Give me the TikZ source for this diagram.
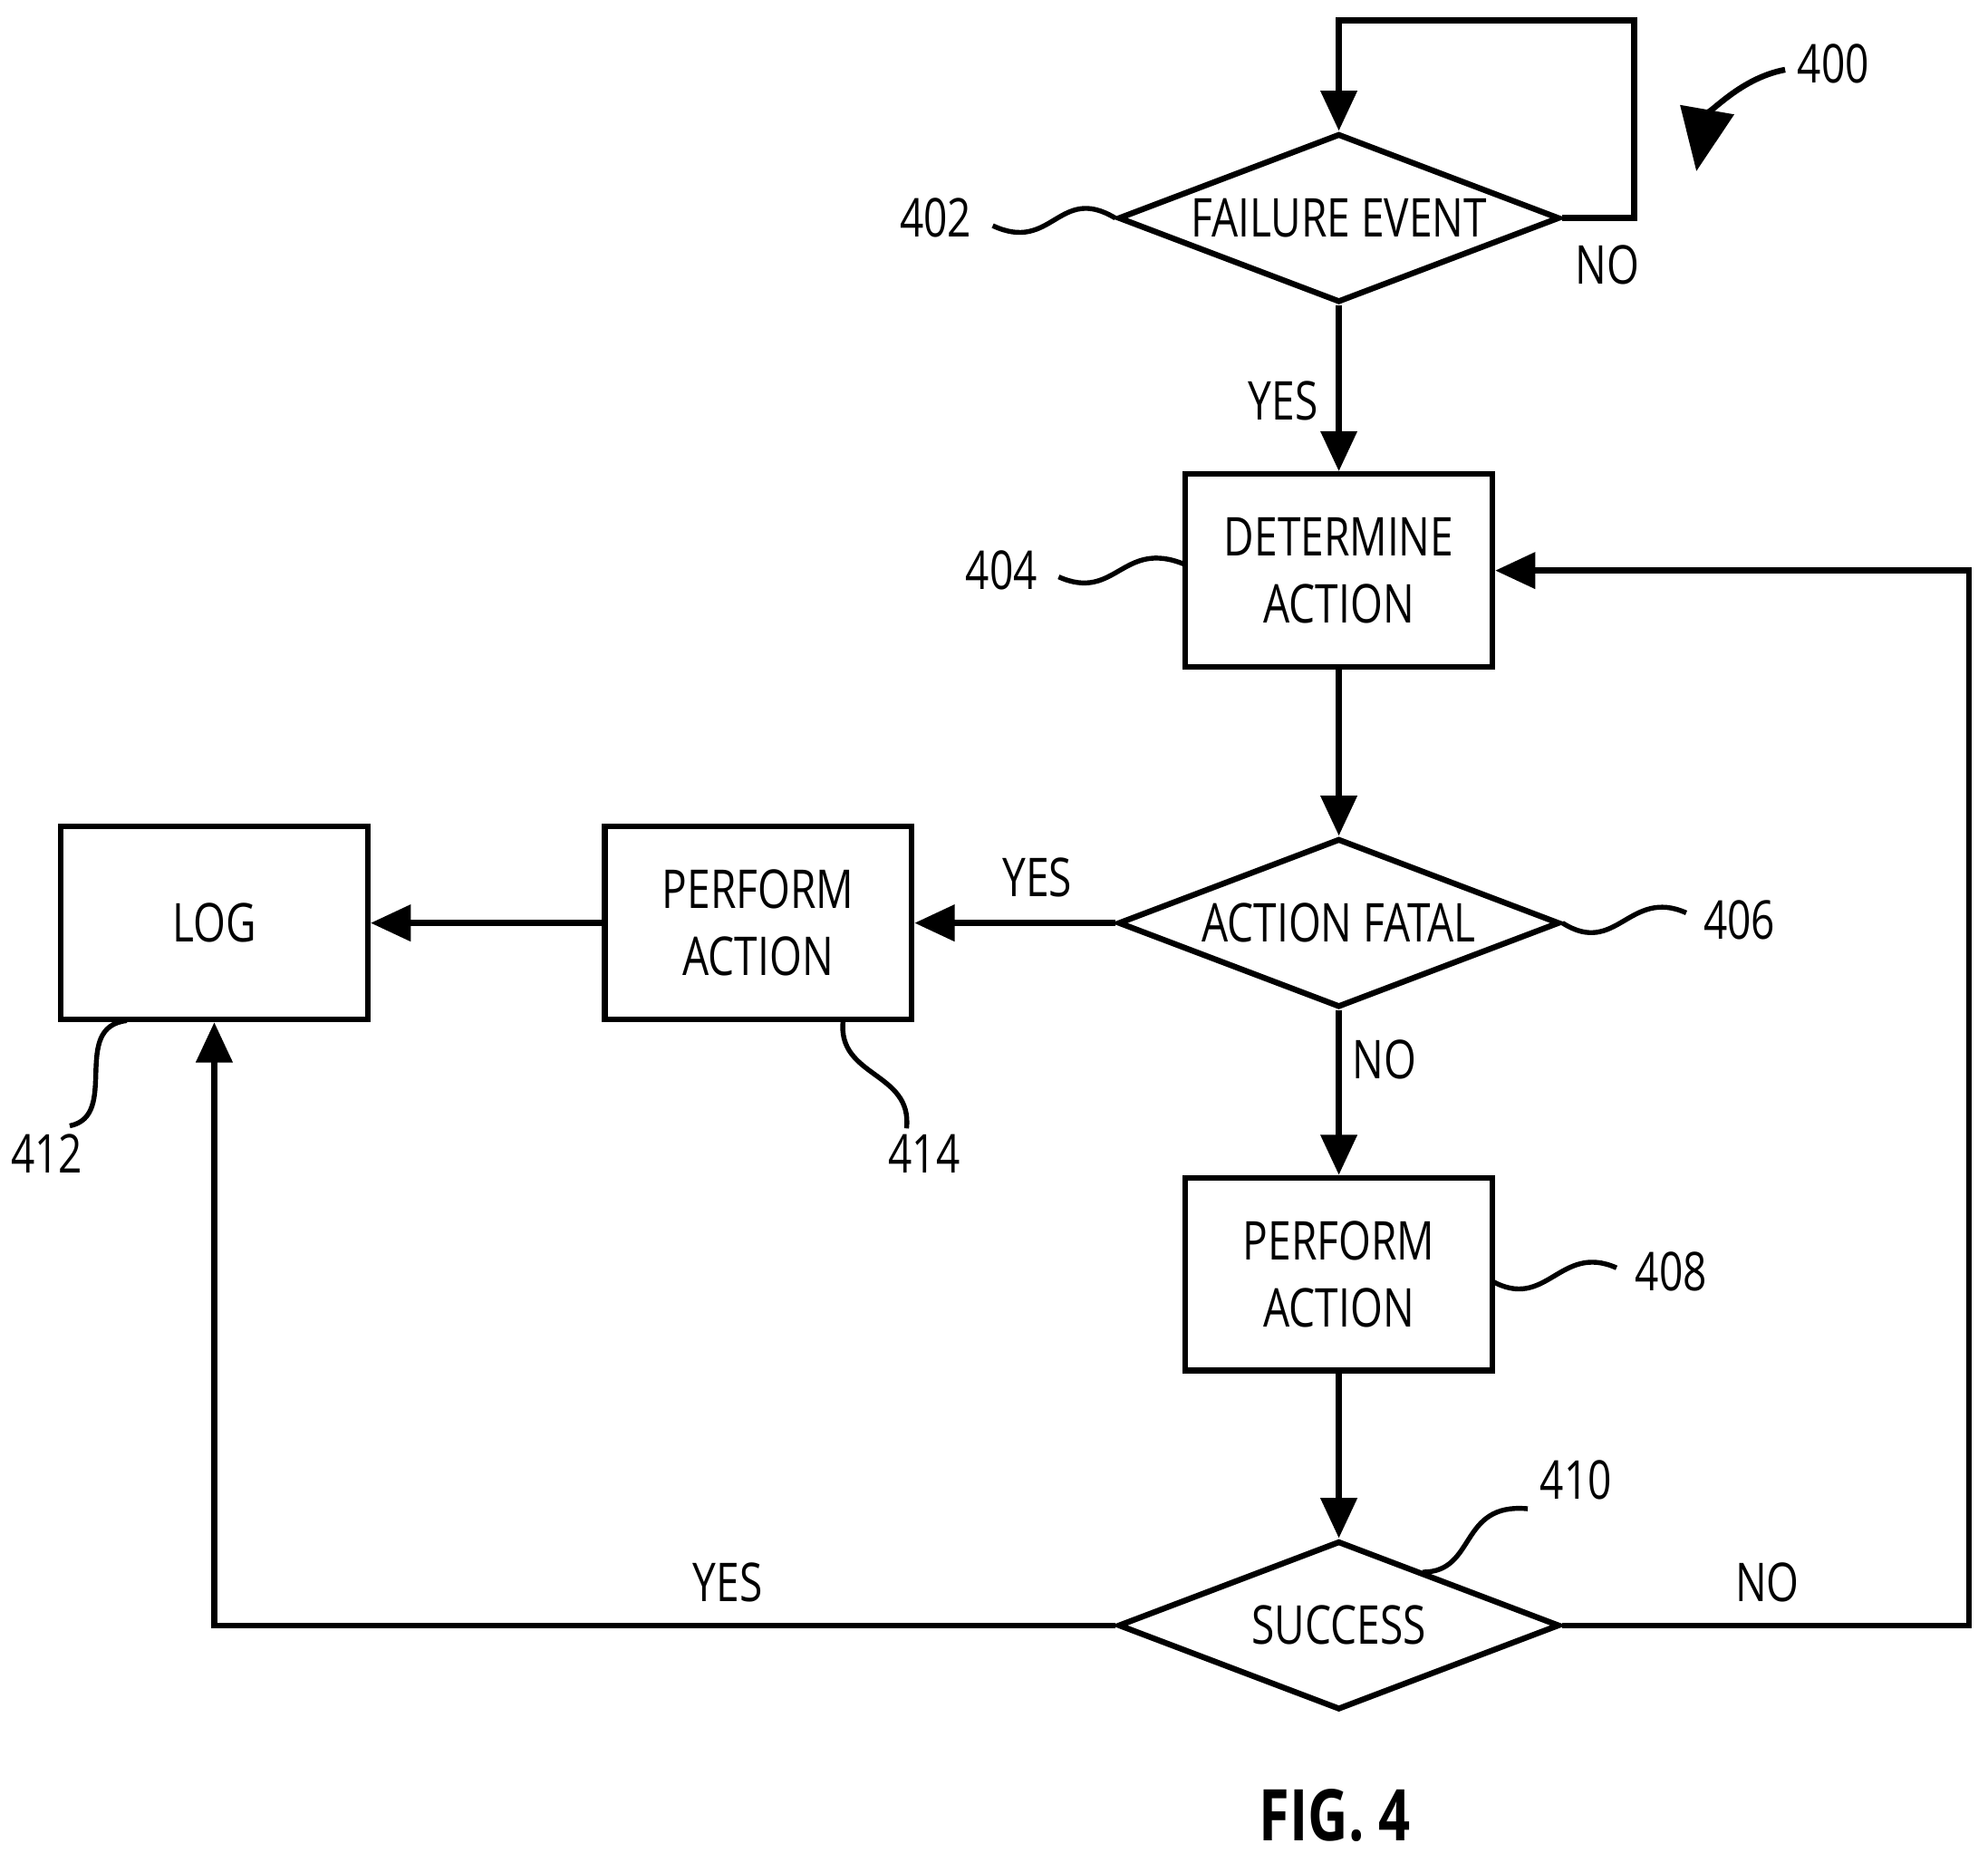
\documentclass[tikz,border=0pt]{standalone}
\usepackage{fontspec}
\setmainfont[FakeStretch=0.78]{Open Sans}
\usetikzlibrary{shapes.geometric, arrows.meta}

\tikzset{
  procbox/.style={draw, line width=1.3pt, minimum width=2.42cm, minimum height=1.52cm, align=center, inner sep=0pt},
  test/.style={draw, diamond, line width=1.3pt, minimum width=3.48cm, minimum height=1.33cm, shape aspect=2.6, inner sep=0pt},
  flow/.style={line width=1.3pt, -{Triangle[length=9pt,width=8pt]}},
  wave/.style={line width=1.1pt},
  lbl/.style={font=\fontsize{12}{15}\selectfont}
}

\begin{document}
\begin{tikzpicture}[x=0.01cm, y=-0.01cm, font=\fontsize{12}{15}\selectfont]
  \useasboundingbox (0,0) rectangle (1568,1461);

  \node[test] (fail) at (1056,172) {FAILURE EVENT};
  \node[procbox] (determine) at (1056,450) {DETERMINE\\ACTION};
  \node[test] (fatal) at (1056,728) {ACTION FATAL};
  \node[procbox] (perf414) at (598,728) {PERFORM\\ACTION};
  \node[procbox] (log) at (169,728) {LOG};
  \node[procbox] (perf408) at (1056,1005) {PERFORM\\ACTION};
  \node[test] (success) at (1056,1282) {SUCCESS};

  \coordinate (loopa) at (1289,172);
  \coordinate (loopb) at (1289,16);
  \coordinate (loopc) at (1056,16);
  \coordinate (nob) at (1553,1282);
  \coordinate (noc) at (1553,450);
  \coordinate (yesb) at (169,1282);

  \draw[flow] (fail.east) -- (loopa) -- (loopb) -- (loopc) -- (fail.north);
  \draw[flow] (fail.south) -- (determine.north);
  \draw[flow] (determine.south) -- (fatal.north);
  \draw[flow] (fatal.west) -- (perf414.east);
  \draw[flow] (perf414.west) -- (log.east);
  \draw[flow] (fatal.south) -- (perf408.north);
  \draw[flow] (perf408.south) -- (success.north);
  \draw[flow] (success.east) -- (nob) -- (noc) -- (determine.east);
  \draw[flow] (success.west) -- (yesb) -- (log.south);

  \node[lbl] (no1) at (1268,209) {NO};
  \node[lbl] (yes1) at (1012,316) {YES};
  \node[lbl] (yes2) at (818,692) {YES};
  \node[lbl] (no2) at (1092,836) {NO};
  \node[lbl] (yes3) at (574,1248) {YES};
  \node[lbl] (no3) at (1394,1248) {NO};

  % reference numerals
  \node[lbl] (r400) at (1446,50) {400};
  \node[lbl] (r402) at (738,172) {402};
  \node[lbl] (r404) at (790,450) {404};
  \node[lbl] (r406) at (1372,726) {406};
  \node[lbl] (r408) at (1318,1003) {408};
  \node[lbl] (r410) at (1243,1167) {410};
  \node[lbl] (r412) at (37,910) {412};
  \node[lbl] (r414) at (729,910) {414};

  \coordinate (w400a) at (1408,55);
  \coordinate (w400b) at (1338,135);
  \draw[line width=1.3pt, -{Triangle[length=14pt,width=12pt]}] (w400a) .. controls (1370,62) and (1345,95) .. (w400b);
  \draw[wave] (783,178) .. controls (830,200) and (835,145) .. (fail.west);
  \draw[wave] (835,455) .. controls (880,475) and (885,425) .. (934,445);
  \draw[wave] (fatal.east) .. controls (1275,755) and (1285,700) .. (1330,720);
  \draw[wave] (1176,1010) .. controls (1220,1035) and (1230,980) .. (1275,1000);
  \draw[wave] (1122,1240) .. controls (1165,1240) and (1150,1185) .. (1205,1190);
  \draw[wave] (100,805) .. controls (55,810) and (95,880) .. (55,888);
  \draw[wave] (665,805) .. controls (660,850) and (720,845) .. (715,890);

  \node[font=\bfseries\fontsize{16}{19}\selectfont] (fig) at (1053,1432) {FIG. 4};
\end{tikzpicture}
\end{document}
